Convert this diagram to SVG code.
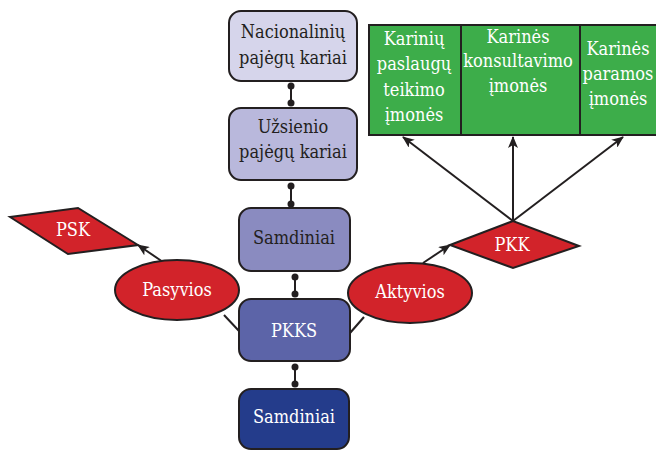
<svg xmlns="http://www.w3.org/2000/svg" width="656" height="451" viewBox="0 0 656 451">
<style>
.box{stroke:#231f20;stroke-width:2}
text{font-family:'DejaVu Serif Condensed','DejaVu Serif',serif;font-stretch:condensed;font-size:18px;text-anchor:middle}
.dk{fill:#231f20}
.wt{fill:#ffffff}
.ln{stroke:#231f20;stroke-width:2;fill:none}
.dot{fill:#231f20}
</style>
<defs>
<marker id="ah" viewBox="0 0 12 10" refX="11" refY="5" markerWidth="12" markerHeight="10" markerUnits="userSpaceOnUse" orient="auto">
<path d="M0,0 L12,5 L0,10 L3,5 Z" fill="#231f20"/>
</marker>
</defs>
<rect width="656" height="451" fill="#ffffff"/>
<g id="connectors">
<line class="ln" x1="291" y1="86" x2="291" y2="103"/>
<circle class="dot" cx="291" cy="86" r="3.5"/><circle class="dot" cx="291" cy="103" r="3.5"/>
<line class="ln" x1="291" y1="186" x2="291" y2="204"/>
<circle class="dot" cx="291" cy="186" r="3.5"/><circle class="dot" cx="291" cy="204" r="3.5"/>
<line class="ln" x1="295" y1="277" x2="295" y2="294"/>
<circle class="dot" cx="295" cy="277" r="3.5"/><circle class="dot" cx="295" cy="294" r="3.5"/>
<line class="ln" x1="295" y1="367" x2="295" y2="384"/>
<circle class="dot" cx="295" cy="367" r="3.5"/><circle class="dot" cx="295" cy="384" r="3.5"/>
<line class="ln" x1="224" y1="315" x2="239" y2="331"/>
<line class="ln" x1="350" y1="333" x2="364" y2="317"/>
<line class="ln" x1="163" y1="262" x2="138" y2="245" marker-end="url(#ah)"/>
<line class="ln" x1="423" y1="263" x2="450" y2="245" marker-end="url(#ah)"/>
<line class="ln" x1="513" y1="221" x2="403" y2="137" marker-end="url(#ah)"/>
<line class="ln" x1="513" y1="221" x2="513" y2="137" marker-end="url(#ah)"/>
<line class="ln" x1="513" y1="221" x2="623" y2="137" marker-end="url(#ah)"/>
</g>
<g id="nacionaliniu">
<rect class="box" x="229" y="11" width="128" height="70" rx="12" fill="#d6d5eb"/>
<text class="dk" x="293" y="38">Nacionalinių</text>
<text class="dk" x="293" y="64">pajėgų kariai</text>
</g>
<g id="uzsienio">
<rect class="box" x="229" y="108" width="128" height="72" rx="12" fill="#b9b8dc"/>
<text class="dk" x="293" y="133">Užsienio</text>
<text class="dk" x="293" y="158">pajėgų kariai</text>
</g>
<g id="samdiniai1">
<rect class="box" x="239" y="208" width="111" height="63" rx="12" fill="#8a8bc0"/>
<text class="dk" x="294" y="244">Samdiniai</text>
</g>
<g id="pkks">
<rect class="box" x="239" y="299" width="111" height="62" rx="12" fill="#5c64a8"/>
<text class="wt" x="294" y="337">PKKS</text>
</g>
<g id="samdiniai2">
<rect class="box" x="239" y="389" width="110" height="60" rx="12" fill="#243c8b"/>
<text class="wt" x="294" y="423">Samdiniai</text>
</g>
<g id="pasyvios">
<ellipse class="box" cx="177" cy="290" rx="62" ry="30" fill="#d2232a"/>
<text class="wt" x="177" y="296">Pasyvios</text>
</g>
<g id="aktyvios">
<ellipse class="box" cx="410" cy="293" rx="62" ry="30" fill="#d2232a"/>
<text class="wt" x="410" y="298">Aktyvios</text>
</g>
<g id="psk">
<polygon class="box" points="10,217 78,208 138,245 68,254" fill="#d2232a"/>
<text class="wt" x="73" y="236">PSK</text>
</g>
<g id="pkk">
<polygon class="box" points="450,245 513,221 579,246 513,268" fill="#d2232a"/>
<text class="wt" x="512" y="251">PKK</text>
</g>
<g id="imones">
<rect class="box" x="369" y="25" width="300" height="110" fill="#3dad4a"/>
<line class="ln" x1="461" y1="25" x2="461" y2="135"/>
<line class="ln" x1="580" y1="25" x2="580" y2="135"/>
<text class="wt" x="414" y="45">Karinių</text>
<text class="wt" x="414" y="70">paslaugų</text>
<text class="wt" x="414" y="96">teikimo</text>
<text class="wt" x="414" y="121">įmonės</text>
<text class="wt" x="518" y="43">Karinės</text>
<text class="wt" x="518" y="67">konsultavimo</text>
<text class="wt" x="518" y="92">įmonės</text>
<text class="wt" x="618" y="55">Karinės</text>
<text class="wt" x="618" y="80">paramos</text>
<text class="wt" x="618" y="105">įmonės</text>
</g>
</svg>
